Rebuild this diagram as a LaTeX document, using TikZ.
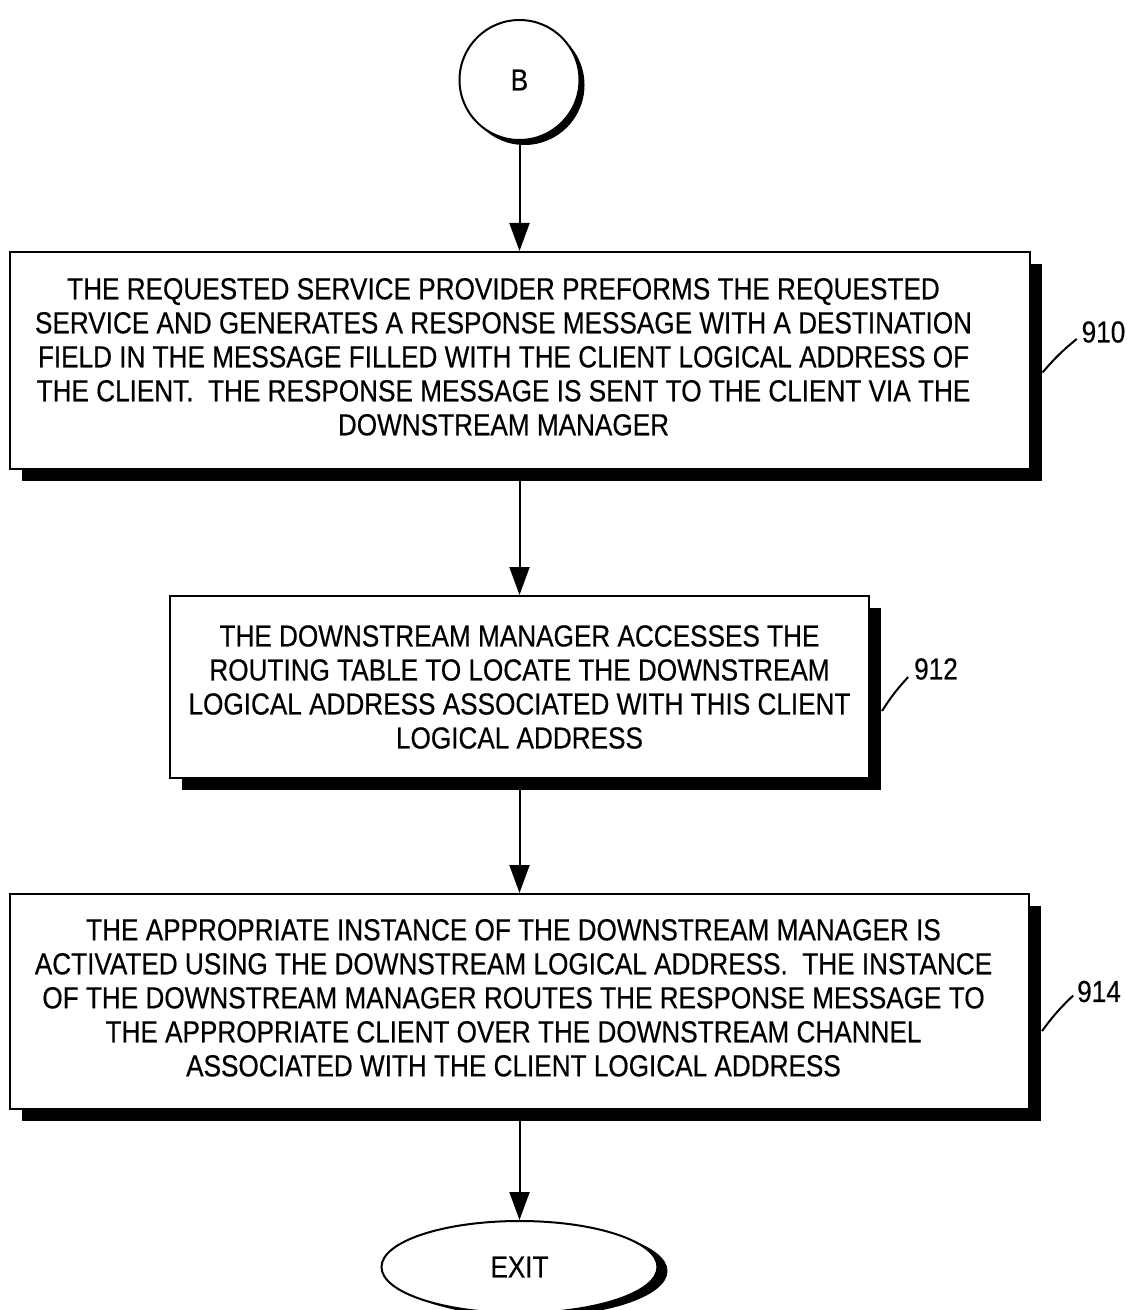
\documentclass[tikz,border=0pt]{standalone}
\usepackage{fontspec}
\setmainfont{Liberation Sans}[FakeStretch=0.86,FakeBold=0.4]
\usetikzlibrary{arrows.meta,positioning,shapes.geometric,shadows}

\begin{document}
\begin{tikzpicture}[->,>={Triangle[length=14pt,width=10pt]},line width=1pt,
  font=\fontsize{15.2pt}{17pt}\selectfont,
  step box/.style={rectangle,draw,fill=white,align=center,inner sep=0pt,
    drop shadow={shadow xshift=6pt,shadow yshift=-6pt,fill=black,opacity=1}},
  conn node/.style={circle,draw,fill=white,minimum size=60pt,inner sep=0pt,
    drop shadow={shadow xshift=2.5pt,shadow yshift=-2.5pt,fill=black,opacity=1}},
  term node/.style={ellipse,draw,fill=white,minimum width=138pt,minimum height=46pt,
    inner sep=0pt,drop shadow={shadow xshift=5pt,shadow yshift=-2pt,fill=black,opacity=1}},
  ref/.style={inner sep=0pt}]

  \useasboundingbox (0,0) rectangle (563pt,-655pt);

  \node[conn node] (b) at (259.75pt,-40pt) {B};
  \node[step box,minimum width=510pt,minimum height=108.5pt] (p910) [below=55pt of b]
    {\begin{tabular}{@{}c@{\hspace{16pt}}}
     THE REQUESTED SERVICE PROVIDER PREFORMS THE REQUESTED\\
     SERVICE AND GENERATES A RESPONSE MESSAGE WITH A DESTINATION\\
     FIELD IN THE MESSAGE FILLED WITH THE CLIENT LOGICAL ADDRESS OF\\
     THE CLIENT.\ \ THE RESPONSE MESSAGE IS SENT TO THE CLIENT VIA THE\\
     DOWNSTREAM MANAGER
     \end{tabular}};
  \node[step box,minimum width=349.5pt,minimum height=91pt] (p912) [below=62.5pt of p910]
    {THE DOWNSTREAM MANAGER ACCESSES THE\\
     ROUTING TABLE TO LOCATE THE DOWNSTREAM\\
     LOGICAL ADDRESS ASSOCIATED WITH THIS CLIENT\\
     LOGICAL ADDRESS};
  \node[step box,minimum width=509.5pt,minimum height=107.5pt] (p914) [below=57pt of p912]
    {\begin{tabular}{@{}c@{\hspace{6pt}}}
     THE APPROPRIATE INSTANCE OF THE DOWNSTREAM MANAGER IS\\
     ACTIVATED USING THE DOWNSTREAM LOGICAL ADDRESS.\ \ THE INSTANCE\\
     OF THE DOWNSTREAM MANAGER ROUTES THE RESPONSE MESSAGE TO\\
     THE APPROPRIATE CLIENT OVER THE DOWNSTREAM CHANNEL\\
     ASSOCIATED WITH THE CLIENT LOGICAL ADDRESS
     \end{tabular}};
  \node[term node] (exit) [below=55pt of p914] {EXIT};

  \node[ref] (l910) at ([xshift=36.5pt,yshift=14.25pt]p910.east) {910};
  \node[ref] (l912) at ([xshift=33pt,yshift=9pt]p912.east) {912};
  \node[ref] (l914) at ([xshift=34.5pt,yshift=5pt]p914.east) {914};

  \path (b) edge (p910)
        (p910) edge (p912)
        (p912) edge (p914)
        (p914) edge (exit);

  \draw[-] ([xshift=6pt,yshift=-6pt]p910.east) to[bend left=5] ([xshift=-2pt,yshift=-3.5pt]l910.west);
  \draw[-] ([xshift=6pt,yshift=-12pt]p912.east) to[bend left=5] ([xshift=-2.5pt,yshift=-4pt]l912.west);
  \draw[-] ([xshift=6pt,yshift=-14.75pt]p914.east) to[bend left=5] ([xshift=-1.5pt,yshift=-2pt]l914.west);

\end{tikzpicture}
\end{document}
